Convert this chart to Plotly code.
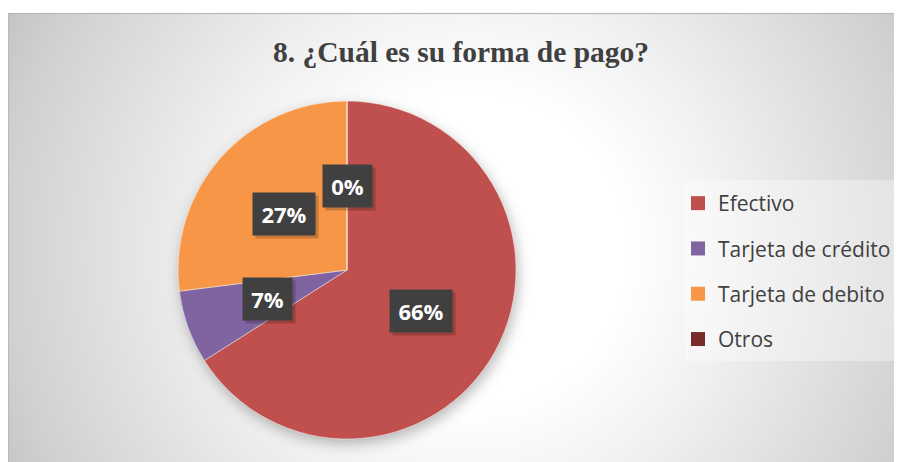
import math
import base64
import plotly.graph_objects as go

# ---------------- data ----------------
categories = ["Efectivo", "Tarjeta de crédito", "Tarjeta de debito", "Otros"]
values = [66, 7, 27, 0]
colors = ["#C0504D", "#8064A2", "#F79646", "#772C2A"]
title_text = "8. ¿Cuál es su forma de pago?"

# ---------------- layout geometry ----------------
# the page body has an 8px margin, so figure coords = page coords - 8
OFF = 8
W, H = 902 - OFF, 462 - OFF
PIE_CX, PIE_CY, PIE_R = 347 - OFF, 270 - OFF, 169
LABEL_RADIUS = 0.5  # fraction of radius at which the value boxes sit

dom_x = [(PIE_CX - PIE_R) / W, (PIE_CX + PIE_R) / W]
dom_y = [1 - (PIE_CY + PIE_R) / H, 1 - (PIE_CY - PIE_R) / H]

def px2x(p):
    return (p - OFF) / W

def px2y(p):
    return 1 - (p - OFF) / H

# ---------------- background (radial gradient chart area + pie shadow) ----------------
svg = f'''<svg xmlns="http://www.w3.org/2000/svg" width="{W}" height="{H}" viewBox="0 0 {W} {H}">
<defs>
<radialGradient id="g" gradientUnits="userSpaceOnUse" cx="462" cy="242" r="520">
<stop offset="0" stop-color="#ffffff"/>
<stop offset="0.3" stop-color="#ffffff"/>
<stop offset="0.5" stop-color="#f1f1f1"/>
<stop offset="0.9" stop-color="#d0d0d0"/>
<stop offset="1" stop-color="#c4c4c4"/>
</radialGradient>
<filter id="b" x="-20%" y="-20%" width="140%" height="140%"><feGaussianBlur stdDeviation="7"/></filter>
</defs>
<rect x="0" y="0" width="{W}" height="{H}" fill="#ffffff"/>
<rect x="0.5" y="5.5" width="{W + 10}" height="{H + 10}" fill="url(#g)" stroke="#b9b9b9" stroke-width="1.2"/>
<circle cx="{PIE_CX + 2}" cy="{PIE_CY + 5}" r="{PIE_R}" fill="rgba(0,0,0,0.28)" filter="url(#b)"/>
</svg>'''
bg_src = "data:image/svg+xml;base64," + base64.b64encode(svg.encode("utf-8")).decode("ascii")

fig = go.Figure()

fig.add_trace(go.Pie(
    labels=categories,
    values=values,
    marker=dict(colors=colors, line=dict(color="rgba(255,255,255,0.45)", width=1)),
    sort=False,
    direction="clockwise",
    rotation=0,
    textinfo="none",
    hoverinfo="label+percent",
    showlegend=False,
    domain=dict(x=dom_x, y=dom_y),
))

# legend entries (one group per category so spacing can be controlled)
for cat, col in zip(categories, colors):
    fig.add_trace(go.Scatter(
        x=[None], y=[None], mode="markers", name=cat, legendgroup=cat,
        marker=dict(symbol="square", size=14, color=col),
        showlegend=True, hoverinfo="skip",
    ))

# ---------------- value boxes, placed from data ----------------
total = sum(values)
annotations = []
cum = 0
for v in values:
    mid = (cum + v / 2) / total * 2 * math.pi
    cum += v
    px = PIE_CX + LABEL_RADIUS * PIE_R * math.sin(mid)
    py = PIE_CY - LABEL_RADIUS * PIE_R * math.cos(mid)
    pct = round(v / total * 100)
    label = f"{pct}%"
    box_w = 20 + 13 * len(str(pct))
    common = dict(x=px / W, y=1 - py / H, xref="paper", yref="paper",
                  xanchor="center", yanchor="middle", width=box_w, height=26,
                  showarrow=False, borderpad=8)
    # soft shadow
    annotations.append(dict(text="&nbsp;", bgcolor="rgba(0,0,0,0.2)",
                            xshift=3, yshift=-3,
                            font=dict(family="Open Sans", size=22, color="rgba(0,0,0,0)"),
                            **common))
    annotations.append(dict(text=f"<b>{label}</b>", bgcolor="#404040",
                            font=dict(family="Open Sans", size=22, color="#ffffff"),
                            **common))

fig.update_layout(
    width=W, height=H,
    margin=dict(l=0, r=0, t=0, b=0),
    paper_bgcolor="#ffffff",
    plot_bgcolor="rgba(0,0,0,0)",
    xaxis=dict(visible=False),
    yaxis=dict(visible=False),
    title=dict(text=f"<b>{title_text}</b>", x=px2x(461), xanchor="center",
               y=px2y(52), yanchor="middle",
               font=dict(family="Liberation Serif", size=29.5, color="#404040")),
    legend=dict(x=px2x(678), y=px2y(183), xanchor="left", yanchor="top",
                font=dict(family="Open Sans", size=21, color="#404040"),
                tracegroupgap=15, bgcolor="rgba(0,0,0,0)", traceorder="grouped"),
    images=[dict(source=bg_src, xref="paper", yref="paper", x=0, y=1,
                 sizex=1, sizey=1, sizing="stretch", layer="below",
                 xanchor="left", yanchor="top")],
    shapes=[dict(type="rect", xref="paper", yref="paper",
                 x0=px2x(685), x1=1, y0=px2y(361), y1=px2y(180),
                 fillcolor="rgba(255,255,255,0.35)", line=dict(width=0),
                 layer="below")],
    annotations=annotations,
)

fig.write_html("out.html")
